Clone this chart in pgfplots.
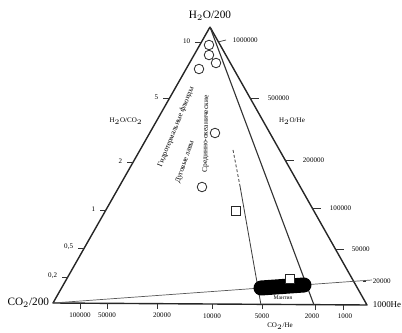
\documentclass[border=0pt]{standalone}
\usepackage{pgfplots}
\pgfplotsset{compat=1.18}
\usepackage{fontspec}
\setmainfont{Liberation Serif}
\begin{document}
\begin{tikzpicture}
\begin{axis}[name=ax, scale only axis, width=10.05cm, height=8.325cm,
  xmin=0, xmax=402, ymin=0, ymax=333, y dir=reverse,
  axis lines=none, clip=false,
  every node/.style={inner sep=0.5pt, text=black!85}]
% triangle H2O - CO2 - He
\addplot[black!85, line width=1pt, line join=round] coordinates {(210,27) (53,303) (367,305) (210,27)};
% mixing lines
\addplot[black!80, line width=0.8pt] coordinates {(210,27) (314,305)};
\addplot[black!75, line width=0.6pt, dash pattern=on 2pt off 1.5pt] coordinates {(233,150) (240,186)};
\addplot[black!75, line width=0.6pt] coordinates {(240,186) (261,305)};
\addplot[black!65, line width=0.5pt] coordinates {(53,303) (372,280)};
% mantle field
\addplot[black, line width=0.375cm, line cap=round] coordinates {(261,288) (304,285)};
\addplot[only marks, mark=square*, mark size=3.4pt, mark options={fill=white, draw=black!85, line width=0.6pt}] coordinates {(290,279)};
\addplot[only marks, mark=square*, mark size=3.4pt, mark options={fill=white, draw=black!85, line width=0.6pt}] coordinates {(236,211)};
\node[font=\fontsize{3.5}{4}\selectfont] at (axis cs:290,279) {1};
\node[font=\fontsize{3.5}{4}\selectfont] at (axis cs:236,211) {2};
\node[font=\fontsize{4}{5}\selectfont] at (axis cs:283,298) {Мантия};
% sample circles
\addplot[only marks, mark=*, mark size=3.4pt, mark options={fill=white, draw=black!80, line width=0.6pt}]
  coordinates {(209,45) (209,55) (216,63) (199,69) (215,133) (202,187)};
\node[font=\fontsize{3.5}{4}\selectfont] at (axis cs:209,45) {1};
\node[font=\fontsize{3.5}{4}\selectfont] at (axis cs:209,55) {3};
\node[font=\fontsize{3.5}{4}\selectfont] at (axis cs:216,63) {4};
\node[font=\fontsize{3.5}{4}\selectfont] at (axis cs:199,69) {2};
\node[font=\fontsize{3.5}{4}\selectfont] at (axis cs:215,133) {5};
\node[font=\fontsize{3.5}{4}\selectfont] at (axis cs:202,187) {6};
% group labels
\node[rotate=68, font=\fontsize{5.3}{6}\selectfont] at (axis cs:176,127) {Гидротермальные флюиды};
\node[rotate=71, font=\fontsize{5.3}{6}\selectfont] at (axis cs:185,162) {Дуговые лавы};
\node[rotate=89, font=\fontsize{5.3}{6}\selectfont] at (axis cs:206,134) {Срединно-океанические};
% H2O/CO2 scale (left side)
\addplot[black!80, line width=0.5pt] coordinates {(201,42) (195,42)};
\addplot[black!80, line width=0.5pt] coordinates {(169,98) (163,98)};
\addplot[black!80, line width=0.5pt] coordinates {(133,162) (127,162)};
\addplot[black!80, line width=0.5pt] coordinates {(106,210) (100,210)};
\addplot[black!80, line width=0.5pt] coordinates {(84,248) (78,248)};
\addplot[black!80, line width=0.5pt] coordinates {(68,277) (62,277)};
\node[anchor=east, font=\fontsize{5}{6}\selectfont] at (axis cs:195,41) {10};
\node[anchor=east, font=\fontsize{5}{6}\selectfont] at (axis cs:163,97) {5};
\node[anchor=east, font=\fontsize{5}{6}\selectfont] at (axis cs:127,161) {2};
\node[anchor=east, font=\fontsize{5}{6}\selectfont] at (axis cs:100,209) {1};
\node[anchor=east, font=\fontsize{5}{6}\selectfont] at (axis cs:78,247) {0,5};
\node[anchor=east, font=\fontsize{5}{6}\selectfont] at (axis cs:62,276) {0,2};
\node[font=\fontsize{5}{6}\selectfont] at (axis cs:126,121) {H$_2$O/CO$_2$};
% H2O/He scale (right side)
\addplot[black!80, line width=0.5pt] coordinates {(218,42) (226,40)};
\addplot[black!80, line width=0.5pt] coordinates {(250,98) (259,98)};
\addplot[black!80, line width=0.5pt] coordinates {(285,160) (294,160)};
\addplot[black!80, line width=0.5pt] coordinates {(312,208) (321,208)};
\addplot[black!80, line width=0.5pt] coordinates {(335,249) (344,249)};
\addplot[black!80, line width=0.5pt] coordinates {(363,281) (366,281)};
\node[anchor=west, font=\fontsize{5}{6}\selectfont] at (axis cs:228,40) {1000000};
\node[anchor=west, font=\fontsize{5}{6}\selectfont] at (axis cs:263,98) {500000};
\node[anchor=west, font=\fontsize{5}{6}\selectfont] at (axis cs:298,160) {200000};
\node[anchor=west, font=\fontsize{5}{6}\selectfont] at (axis cs:325,208) {100000};
\node[anchor=west, font=\fontsize{5}{6}\selectfont] at (axis cs:347,249) {50000};
\node[anchor=west, font=\fontsize{5}{6}\selectfont] at (axis cs:368,281) {20000};
\node[font=\fontsize{5}{6}\selectfont] at (axis cs:292,121) {H$_2$O/He};
% CO2/He scale (bottom)
\addplot[black!80, line width=0.5pt] coordinates {(80,303) (80,309)};
\addplot[black!80, line width=0.5pt] coordinates {(107,303) (107,309)};
\addplot[black!80, line width=0.5pt] coordinates {(157,304) (157,309)};
\addplot[black!80, line width=0.5pt] coordinates {(212,304) (212,309)};
\addplot[black!80, line width=0.5pt] coordinates {(262,304) (262,309)};
\addplot[black!80, line width=0.5pt] coordinates {(315,305) (315,310)};
\addplot[black!80, line width=0.5pt] coordinates {(343,305) (343,310)};
\node[font=\fontsize{5}{6}\selectfont] at (axis cs:80,315) {100000};
\node[font=\fontsize{5}{6}\selectfont] at (axis cs:107,315) {50000};
\node[font=\fontsize{5}{6}\selectfont] at (axis cs:162,315) {20000};
\node[font=\fontsize{5}{6}\selectfont] at (axis cs:212,316) {10000};
\node[font=\fontsize{5}{6}\selectfont] at (axis cs:262,316) {5000};
\node[font=\fontsize{5}{6}\selectfont] at (axis cs:312,316) {2000};
\node[font=\fontsize{5}{6}\selectfont] at (axis cs:345,316) {1000};
\node[font=\fontsize{5}{6}\selectfont] at (axis cs:280,326) {CO$_2$/He};
% vertices
\node[font=\fontsize{8}{9}\selectfont] at (axis cs:210,16) {H$_2$O/200};
\node[anchor=east, font=\fontsize{8}{9}\selectfont] at (axis cs:54,303) {CO$_2$/200};
\node[anchor=west, font=\fontsize{6.3}{7}\selectfont] at (axis cs:368,305) {1000He};
\end{axis}
\pgfresetboundingbox
\path[use as bounding box] (ax.south west) rectangle (ax.north east);
\end{tikzpicture}
\end{document}
